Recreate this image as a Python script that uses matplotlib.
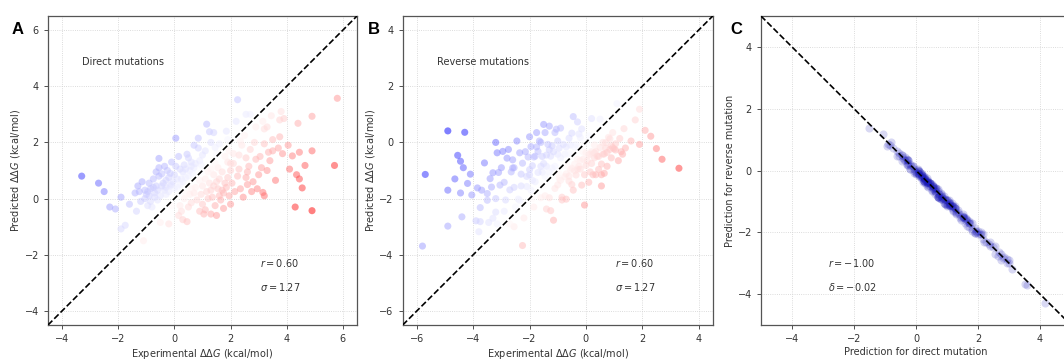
import numpy as np
import matplotlib
matplotlib.use("Agg")
import matplotlib.pyplot as plt
from matplotlib.colors import Normalize

OUTPUT_PLOT_FILE = "out.png"

# experimental ddG of the direct mutations (kcal/mol)
exp_direct = [
    -3.30, -2.70, -2.50, -2.30, -2.10, -1.90, -1.90, -1.75, -1.40, -1.35,
    -1.10, -1.15, -1.05, -1.00, -0.95, -0.90, -0.85, -0.75, -0.70, -0.65,
    -0.55, -0.55, -0.55, -0.45, -0.40, -0.35, -0.30, -0.25, -0.20, -0.15,
    -0.10, -0.05, 0.00, 0.05, 0.10, 0.15, 0.20, 0.25, 0.30, 0.35,
    0.45, 0.50, 0.55, 0.60, 0.65, 0.70, 0.85, 0.85, 0.90, 1.00,
    1.15, 1.25, 1.30, 1.45, 1.50, 1.60, 1.85, 2.25, 2.55, -1.20,
    -0.80, -0.60, -1.30, -0.50, -0.30, 0.40, -0.95, -1.60, -0.90, -0.75,
    -0.60, -0.45, -0.30, -0.20, -0.10, 0.00, 0.10, 0.20, 0.30, 0.40,
    0.50, 0.60, 0.75, 0.95, 1.10, 1.40, 1.90, -0.65, -0.35, 0.15,
    0.70, -1.05, -0.85, -1.25, 2.20, -0.50, 2.70, -0.15, 0.05, -0.70,
    5.80, 4.90, 4.40, 3.80, 3.90, 3.75, 3.45, 3.30, 3.20, 3.50,
    3.75, 3.20, 4.05, 4.10, 4.20, 3.85, 3.70, 4.45, 4.90, 5.70,
    4.65, 4.35, 4.45, 4.55, 4.30, 4.90, 3.20, 3.15, 2.75, 2.80,
    2.60, 3.00, 3.10, 3.30, 3.40, 3.05, 2.65, 2.55, 2.30, 2.10,
    2.40, 2.50, 2.00, 1.90, 1.80, 1.70, 1.60, 1.50, 1.40, 1.30,
    1.20, 1.10, 1.30, 1.05, 0.90, 0.30, 0.45, 0.25, 0.60, 0.70,
    0.80, 0.95, 1.00, 1.15, 1.25, 1.35, 1.45, 1.55, 1.65, 1.75,
    1.85, 1.95, 2.05, 2.15, 2.25, 2.35, 2.45, 2.55, 2.00, 1.50,
    0.15, -0.20, 0.50, 0.35, 0.55, 0.75, 0.90, 1.10, 1.30, 1.55,
    1.70, 1.90, 2.10, 2.30, 2.70, 2.90, 1.80, 1.60, 1.40, 1.20,
    0.95, 0.60, 0.40, 0.20, 0.05, -0.10, 2.00, 1.00, 1.75, 2.60,
    3.50, 2.85, 2.95, 3.60, 3.35, 2.35, 2.90, 3.15, 1.95, 1.45,
]

# predicted ddG of the direct mutations
pred_direct = [
    0.80, 0.55, 0.25, -0.30, -0.37, 0.05, -1.08, -0.95, 0.20, -0.45,
    -1.50, 0.60, 0.30, 0.15, 0.25, 0.10, 0.35, 0.70, 0.20, 0.45,
    1.43, 1.10, 0.80, 0.88, 0.55, 0.30, 0.65, 1.00, 0.75, 0.45,
    1.30, 0.60, 0.85, 2.15, 0.40, 1.50, 1.05, 0.70, 0.95, 1.20,
    1.58, 1.45, 1.00, 1.30, 0.90, 1.10, 2.15, 1.80, 1.35, 1.55,
    2.65, 2.38, 2.00, 1.82, 1.60, 1.95, 2.40, 3.52, 3.00, -0.10,
    -0.30, -0.05, 0.45, 0.10, 0.15, 0.75, -0.25, -0.20, 0.55, 0.40,
    0.30, 0.45, 0.40, 0.25, 0.50, 0.35, 0.70, 0.50, 0.60, 1.05,
    0.80, 1.15, 1.25, 1.20, 1.70, 2.35, 2.10, 0.95, 1.15, 0.20,
    1.90, 0.00, -0.10, 0.25, 2.75, -0.85, 3.00, 0.90, 1.15, 0.05,
    3.57, 2.93, 2.68, 3.10, 2.85, 2.80, 2.95, 2.55, 2.48, 2.10,
    2.20, 1.95, 1.90, 1.05, 1.52, 1.60, 1.80, 1.65, 1.70, 1.18,
    1.18, 0.85, 0.70, 0.38, -0.30, -0.43, 0.10, 0.22, 0.25, 0.60,
    0.50, 0.85, 1.10, 1.00, 1.35, 1.50, 1.15, 1.45, 1.55, 1.25,
    1.90, 2.25, 1.00, 0.75, 0.55, 0.30, 0.10, 0.60, 0.85, 0.30,
    0.00, -0.40, -0.55, -0.55, -0.45, -0.75, -0.82, -0.45, -0.15, 0.20,
    -0.05, 0.15, 0.45, 0.25, 0.55, 0.05, -0.25, 0.35, -0.05, 0.20,
    0.40, 0.10, 0.55, 0.25, 0.80, 0.35, 0.05, 0.75, -0.20, -0.60,
    -0.60, -0.90, -0.30, 0.00, 0.15, 0.40, 0.65, 0.70, 1.05, 1.10,
    0.95, 1.30, 1.60, 1.05, 1.75, 1.40, 1.50, 0.70, 0.45, 0.95,
    1.00, 0.35, 0.20, -0.25, 0.05, -0.25, 1.25, -0.20, -0.35, 0.95,
    1.70, 2.00, 0.35, 0.65, 1.65, 2.05, 2.55, 2.75, 1.70, 1.25,
]

# predicted ddG of the reverse mutations
pred_reverse = [
    -0.92, -0.60, -0.22, 0.22, 0.43, -0.07, 1.18, 0.80, -0.20, 0.49,
    1.38, -0.65, -0.27, -0.23, -0.19, -0.12, -0.25, -0.85, -0.20, -0.41,
    -1.55, -1.15, -0.77, -0.96, -0.49, -0.32, -0.55, -1.15, -0.75, -0.41,
    -1.42, -0.65, -0.82, -2.23, -0.34, -1.52, -0.95, -0.85, -0.95, -1.16,
    -1.70, -1.50, -0.97, -1.38, -0.84, -1.12, -2.05, -1.95, -1.35, -1.51,
    -2.77, -2.43, -1.97, -1.90, -1.54, -1.97, -2.30, -3.67, -3.00, 0.14,
    0.18, 0.00, -0.42, -0.18, -0.09, -0.77, 0.35, 0.05, -0.55, -0.36,
    -0.42, -0.50, -0.37, -0.33, -0.44, -0.37, -0.60, -0.65, -0.60, -1.01,
    -0.92, -1.20, -1.22, -1.28, -1.64, -2.37, -2.00, -1.10, -1.15, -0.16,
    -2.02, -0.05, 0.13, -0.33, -2.69, 0.83, -2.90, -1.05, -1.15, -0.01,
    -3.69, -2.98, -2.65, -3.18, -2.79, -2.82, -2.85, -2.70, -2.48, -2.06,
    -2.32, -2.00, -1.87, -1.13, -1.46, -1.62, -1.70, -1.80, -1.70, -1.14,
    -1.30, -0.90, -0.67, -0.46, 0.36, 0.41, 0.00, -0.37, -0.25, -0.56,
    -0.62, -0.90, -1.07, -1.08, -1.29, -1.52, -1.05, -1.60, -1.55, -1.21,
    -2.02, -2.30, -0.97, -0.83, -0.49, -0.32, 0.00, -0.75, -0.85, -0.26,
    -0.12, 0.35, 0.58, 0.47, 0.51, 0.73, 0.92, 0.30, 0.15, -0.16,
    -0.07, -0.20, -0.42, -0.33, -0.49, -0.07, 0.35, -0.50, 0.05, -0.16,
    -0.52, -0.15, -0.52, -0.33, -0.74, -0.37, 0.05, -0.90, 0.20, 0.64,
    0.48, 0.85, 0.33, -0.08, -0.09, -0.42, -0.55, -0.85, -1.05, -1.06,
    -1.07, -1.35, -1.57, -1.13, -1.69, -1.42, -1.40, -0.85, -0.45, -0.91,
    -1.12, -0.40, -0.17, 0.17, 0.01, 0.23, -1.15, 0.05, 0.35, -0.91,
    -1.82, -2.05, -0.32, -0.73, -1.59, -2.07, -2.45, -2.90, -1.70, -1.21,
]

# one more pair that only shows up in panel C
c_extra_direct = [4.15]
c_extra_reverse = [-4.28]

stats_direct = ["$r = 0.60$", r"$\sigma = 1.27$"]
stats_reverse = ["$r = 0.60$", r"$\sigma = 1.27$"]
stats_anti = ["$r = -1.00$", r"$\delta = -0.02$"]

TEXT_COLOR = "#333333"
FS = 7


def style_axes(ax, lim, ticks):
    ax.set_xlim(lim)
    ax.set_ylim(lim)
    ax.set_xticks(ticks)
    ax.set_yticks(ticks)
    ax.grid(True, linestyle=":", color="#d0d0d0", linewidth=0.6)
    ax.set_axisbelow(True)
    ax.tick_params(labelsize=FS, length=3, width=0.6, colors=TEXT_COLOR)
    for sp in ax.spines.values():
        sp.set_color("#555555")
        sp.set_linewidth(0.9)


def scatter_panel(ax, x, y, lim, ticks, title, stats):
    x = np.asarray(x)
    y = np.asarray(y)
    c = x - y
    m = np.abs(c).max()
    ax.scatter(x, y, c=c, cmap="bwr", norm=Normalize(-m, m),
               s=26, alpha=0.5, linewidths=0, zorder=2)
    ax.plot(lim, lim, "k--", linewidth=1.2, zorder=3)
    style_axes(ax, lim, ticks)
    ax.text(0.11, 0.85, title, transform=ax.transAxes, fontsize=FS,
            color=TEXT_COLOR, va="center")
    ax.text(0.685, 0.20, stats[0], transform=ax.transAxes, fontsize=FS,
            color=TEXT_COLOR, va="center")
    ax.text(0.685, 0.122, stats[1], transform=ax.transAxes, fontsize=FS,
            color=TEXT_COLOR, va="center")
    ax.set_xlabel(r"Experimental $\Delta\Delta G$ (kcal/mol)", fontsize=FS,
                  color=TEXT_COLOR, labelpad=2)
    ax.set_ylabel(r"Predicted $\Delta\Delta G$ (kcal/mol)", fontsize=FS,
                  color=TEXT_COLOR, labelpad=2)


fig = plt.figure(figsize=(10.64, 3.59), dpi=100)

# --- (A) direct mutations ---
axA = fig.add_axes([0.0451, 0.0947, 0.2904, 0.8607])
scatter_panel(axA, exp_direct, pred_direct, (-4.5, 6.5), [-4, -2, 0, 2, 4, 6],
              "Direct mutations", stats_direct)

# --- (B) reverse mutations: experimental ddG flips sign ---
exp_reverse = -np.asarray(exp_direct)
axB = fig.add_axes([0.3785, 0.0947, 0.2914, 0.8607])
scatter_panel(axB, exp_reverse, pred_reverse, (-6.5, 4.5), [-6, -4, -2, 0, 2, 4],
              "Reverse mutations", stats_reverse)

# --- (C) antisymmetry check (panel runs off the right edge) ---
axC = fig.add_axes([0.7152, 0.0947, 0.2914, 0.8607])
axC.scatter(pred_direct + c_extra_direct, pred_reverse + c_extra_reverse,
            color="#1818b8", s=34, alpha=0.17, linewidths=0, zorder=2)
axC.plot((-5, 5), (5, -5), "k--", linewidth=1.2, zorder=3)
style_axes(axC, (-5, 5), [-4, -2, 0, 2, 4])
axC.text(0.217, 0.20, stats_anti[0], transform=axC.transAxes, fontsize=FS,
         color=TEXT_COLOR, va="center")
axC.text(0.217, 0.122, stats_anti[1], transform=axC.transAxes, fontsize=FS,
         color=TEXT_COLOR, va="center")
axC.set_xlabel("Prediction for direct mutation", fontsize=FS,
               color=TEXT_COLOR, labelpad=2)
axC.set_ylabel("Prediction for reverse mutation", fontsize=FS,
               color=TEXT_COLOR, labelpad=2)

# panel letters
for xpos, letter in [(0.0105, "A"), (0.346, "B"), (0.686, "C")]:
    fig.text(xpos, 0.918, letter, fontsize=12, fontweight="bold",
             family="Liberation Sans", va="center")

plt.savefig(OUTPUT_PLOT_FILE, dpi=100)
